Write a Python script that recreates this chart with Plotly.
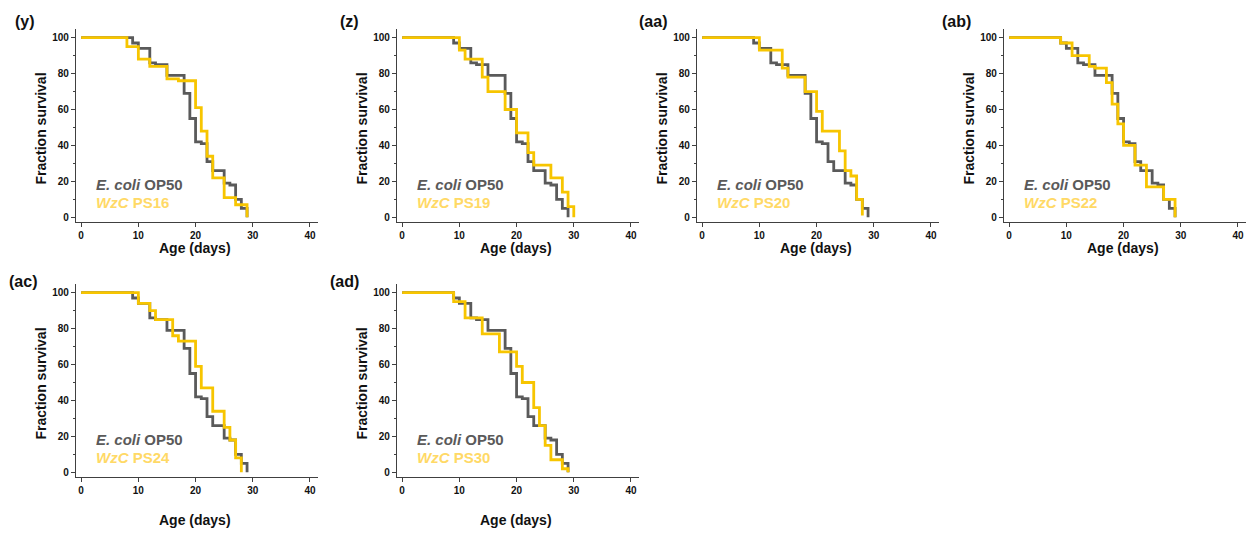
import plotly.graph_objects as go

W, H = 1253, 533

panel_labels = ["(y)", "(z)", "(aa)", "(ab)", "(ac)", "(ad)"]
strain_names = ["PS16", "PS19", "PS20", "PS22", "PS24", "PS30"]

op50_days = [0, 9, 10, 12, 13, 15, 18, 19, 20, 21, 22, 23, 25, 26, 27, 28, 29]
op50_surv = [100, 97, 94, 86, 85, 79, 69, 55, 42, 41, 31, 26, 19, 18, 10, 5, 0]

ps16_days = [0, 8, 10, 12, 15, 17, 20, 21, 22, 23, 25, 27, 29]
ps16_surv = [100, 95, 88, 84, 77, 76, 61, 48, 34, 22, 11, 7, 0]

ps19_days = [0, 10, 11, 14, 15, 18, 20, 22, 23, 26, 28, 29, 30]
ps19_surv = [100, 93, 88, 78, 70, 60, 47, 36, 29, 22, 14, 6, 0]

ps20_days = [0, 10, 14, 15, 18, 20, 21, 24, 25, 26, 27, 28]
ps20_surv = [100, 93, 83, 78, 70, 59, 48, 37, 26, 23, 10, 1]

ps22_days = [0, 9, 11, 14, 15, 17, 18, 19, 20, 22, 24, 27, 29]
ps22_surv = [100, 97, 90, 84, 83, 75, 63, 52, 40, 29, 17, 10, 0]

ps24_days = [0, 10, 12, 13, 16, 17, 20, 21, 23, 25, 26, 27, 28]
ps24_surv = [100, 94, 90, 85, 76, 73, 59, 47, 34, 25, 18, 8, 0]

ps30_days = [0, 9, 11, 14, 17, 20, 21, 23, 24, 25, 26, 28, 29]
ps30_surv = [100, 95, 86, 77, 67, 59, 50, 36, 26, 15, 7, 2, 0]

strain_days = [ps16_days, ps19_days, ps20_days, ps22_days, ps24_days, ps30_days]
strain_surv = [ps16_surv, ps19_surv, ps20_surv, ps22_surv, ps24_surv, ps30_surv]

x_ticks = [0, 10, 20, 30, 40]
y_ticks = [0, 20, 40, 60, 80, 100]

GRAY = "#5a5a5a"
GOLD = "#f7c500"
GOLD_TXT = "#ffd966"
FONT = "Liberation Sans, Arial, sans-serif"

# panel pixel boxes: (left, right, top, bottom)
boxes = [
    (76, 318, 29, 222),
    (397, 639, 29, 222),
    (697, 939, 29, 222),
    (1004, 1246, 29, 222),
    (76, 318, 284, 477),
    (397, 639, 284, 477),
]
label_pos = [(13, 21), (338, 21), (637, 21), (940, 21), (7, 281), (328, 281)]

fig = go.Figure()
annotations = []
layout = {}
for i, (l, r, t, b) in enumerate(boxes):
    n = "" if i == 0 else str(i + 1)
    xa, ya = "x" + n, "y" + n
    fig.add_trace(go.Scatter(x=op50_days, y=op50_surv, mode="lines", line_shape="hv",
                             line=dict(color=GRAY, width=2.8), xaxis=xa, yaxis=ya,
                             showlegend=False, name="E. coli OP50"))
    fig.add_trace(go.Scatter(x=strain_days[i], y=strain_surv[i], mode="lines", line_shape="hv",
                             line=dict(color=GOLD, width=2.8), xaxis=xa, yaxis=ya,
                             showlegend=False, name="WzC " + strain_names[i]))
    common = dict(showline=True, linecolor="#404040", linewidth=1.2, ticks="outside",
                  tickcolor="#404040", ticklen=4, showgrid=False, zeroline=False,
                  tickfont=dict(family=FONT, size=10, color="#111", weight="bold"))
    layout["xaxis" + n] = dict(domain=[l / W, r / W], range=[-0.9, 41.4], tickvals=x_ticks,
                               anchor=ya, **common)
    layout["yaxis" + n] = dict(domain=[1 - b / H, 1 - t / H], range=[-2.6, 104.8],
                               tickvals=y_ticks, anchor=xa,
                               minor=dict(dtick=10, tick0=0, ticks="outside", ticklen=2,
                                          tickcolor="#404040"), **common)
    annotations.append(dict(text="<b>Fraction survival</b>", xref="paper", yref="paper",
                            x=(l - 36) / W, y=1 - ((t + b) / 2 + 3) / H, textangle=-90,
                            showarrow=False, xanchor="center", yanchor="middle",
                            font=dict(family=FONT, size=14, color="#111")))
    age_y = b + 26 if i < 4 else b + 43
    annotations.append(dict(text="<b>Age (days)</b>", xref="paper", yref="paper",
                            x=(l + 5 + 114) / W, y=1 - age_y / H, showarrow=False,
                            xanchor="center", yanchor="middle",
                            font=dict(family=FONT, size=14, color="#111")))
    lx, ly = label_pos[i]
    annotations.append(dict(text="<b>" + panel_labels[i] + "</b>", xref="paper", yref="paper",
                            x=lx / W, y=1 - ly / H, showarrow=False, xanchor="left",
                            yanchor="middle", font=dict(family=FONT, size=16, color="#111")))
    annotations.append(dict(text="<b><i>E. coli</i> OP50</b>", xref=xa, yref=ya,
                            x=2.2, y=18, showarrow=False, xanchor="left", yanchor="middle",
                            font=dict(family=FONT, size=15, color=GRAY)))
    annotations.append(dict(text="<b><i>WzC</i> " + strain_names[i] + "</b>", xref=xa, yref=ya,
                            x=2.2, y=8.5, showarrow=False, xanchor="left", yanchor="middle",
                            font=dict(family=FONT, size=15, color=GOLD_TXT)))

fig.update_layout(width=W, height=H, margin=dict(l=0, r=0, t=0, b=0),
                  paper_bgcolor="white", plot_bgcolor="white",
                  annotations=annotations, **layout)
fig.write_html("out.html", config={"displayModeBar": False},
               post_script="document.body.style.margin='0px';")
